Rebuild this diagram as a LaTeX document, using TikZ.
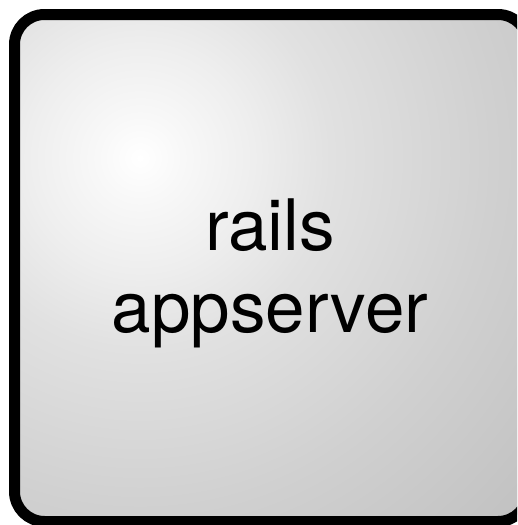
\documentclass[tikz,border=0pt]{standalone}
\usepackage{fontspec}
\setmainfont{TeX Gyre Heros}
\definecolor{gA}{RGB}{248,248,248}
\definecolor{gB}{RGB}{238,238,238}
\definecolor{gC}{RGB}{225,225,225}
\definecolor{gD}{RGB}{208,208,208}
\definecolor{gE}{RGB}{192,192,192}
\pgfdeclareradialshading{boxglow}{\pgfpoint{0bp}{0bp}}{%
  color(0bp)=(white); color(1.52bp)=(gA); color(4.04bp)=(gB);
  color(6.82bp)=(gC); color(12.6bp)=(gD); color(19.2bp)=(gE); color(50bp)=(gE)}
\tikzset{
  boxshape/.style={rounded corners=30pt},
  boxborder/.style={boxshape, line width=11pt, draw=black},
  boxlabel/.style={align=center, inner sep=0pt, text=black,
    font=\fontsize{71}{82}\selectfont}
}
\begin{document}
\begin{tikzpicture}[x=1pt,y=-1pt]
  \useasboundingbox (0,0) rectangle (517,525);
  \clip (0,0) rectangle (517,525);
  \begin{scope}
    \clip[boxshape] (14.5,14.5) -- (528,14.5) -- (528,521.5) -- (14.5,521.5) -- cycle;
    \fill[gE] (0,0) rectangle (540,540);
    \shade[shading=boxglow] (140,158) circle[radius=700];
  \end{scope}
  \path[boxborder] (14.5,14.5) -- (528,14.5) -- (528,521.5) -- (14.5,521.5) -- cycle;
  \node[boxlabel] (label) at (270,273) {rails\\appserver};
\end{tikzpicture}
\end{document}
